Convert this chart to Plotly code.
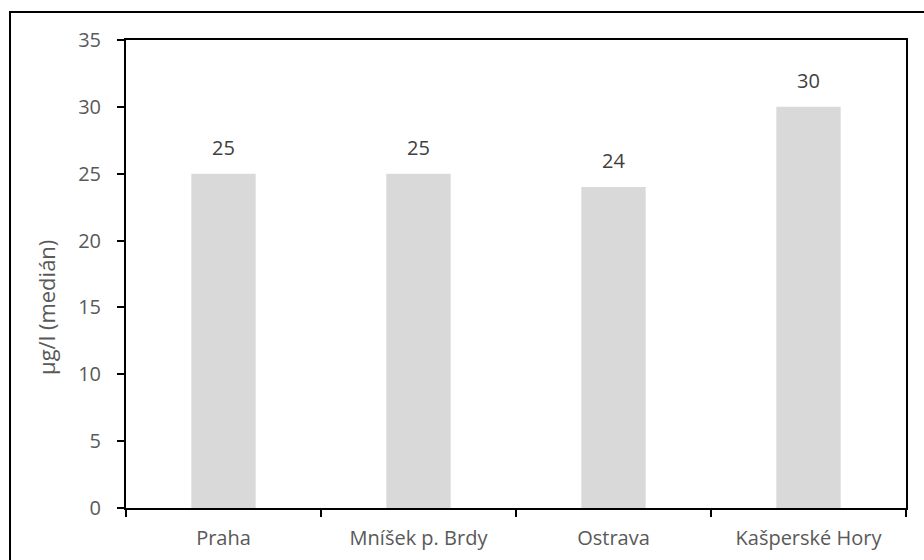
import plotly.graph_objects as go

# Median concentration by locality
categories = ["Praha", "Mníšek p. Brdy", "Ostrava", "Kašperské Hory"]
medians = [25, 25, 24, 30]
y_ticks = [0, 5, 10, 15, 20, 25, 30, 35]
y_title = "µg/l (medián)"

FONT = "Open Sans"
TICK_COLOR = "#595959"
LABEL_COLOR = "#404040"

fig = go.Figure(
    go.Bar(
        x=categories,
        y=medians,
        marker=dict(color="#d9d9d9", line=dict(width=0)),
        width=0.33,
        hoverinfo="x+y",
    )
)

# value labels above each bar
for cat, val in zip(categories, medians):
    fig.add_annotation(
        x=cat, y=val, text=str(val), showarrow=False,
        yanchor="bottom", yshift=11,
        font=dict(family=FONT, size=20, color=LABEL_COLOR),
    )

# rotated y-axis title
fig.add_annotation(
    xref="paper", yref="paper", x=-0.1026, y=0.4295,
    text=y_title, textangle=-90, showarrow=False,
    xanchor="center", yanchor="middle",
    font=dict(family=FONT, size=22, color=TICK_COLOR),
)

# outer chart frame
fig.add_shape(
    type="rect", xref="paper", yref="paper",
    x0=-0.1487, x1=1.04, y0=-0.14, y1=1.0598,
    line=dict(color="black", width=2), fillcolor="rgba(0,0,0,0)",
    layer="above",
)

fig.update_layout(
    width=924, height=560,
    margin=dict(l=126, r=18, t=40, b=52),
    paper_bgcolor="white", plot_bgcolor="white",
    showlegend=False,
    font=dict(family=FONT, color=TICK_COLOR),
    xaxis=dict(
        type="category",
        automargin=False,
        showline=True, linecolor="black", linewidth=2,
        mirror=True,
        ticks="outside", tickson="boundaries", ticklen=7,
        tickcolor="black", tickwidth=2,
        ticklabelstandoff=11,
        tickfont=dict(family=FONT, size=20, color=TICK_COLOR),
        showgrid=False, zeroline=False,
    ),
    yaxis=dict(
        range=[0, 35],
        automargin=False,
        tickvals=y_ticks,
        showline=True, linecolor="black", linewidth=2,
        mirror=True,
        ticks="outside", ticklen=7, tickcolor="black", tickwidth=2,
        ticklabelstandoff=12,
        tickfont=dict(family=FONT, size=20, color=TICK_COLOR),
        showgrid=False, zeroline=False,
    ),
)

fig.write_html("out.html")
